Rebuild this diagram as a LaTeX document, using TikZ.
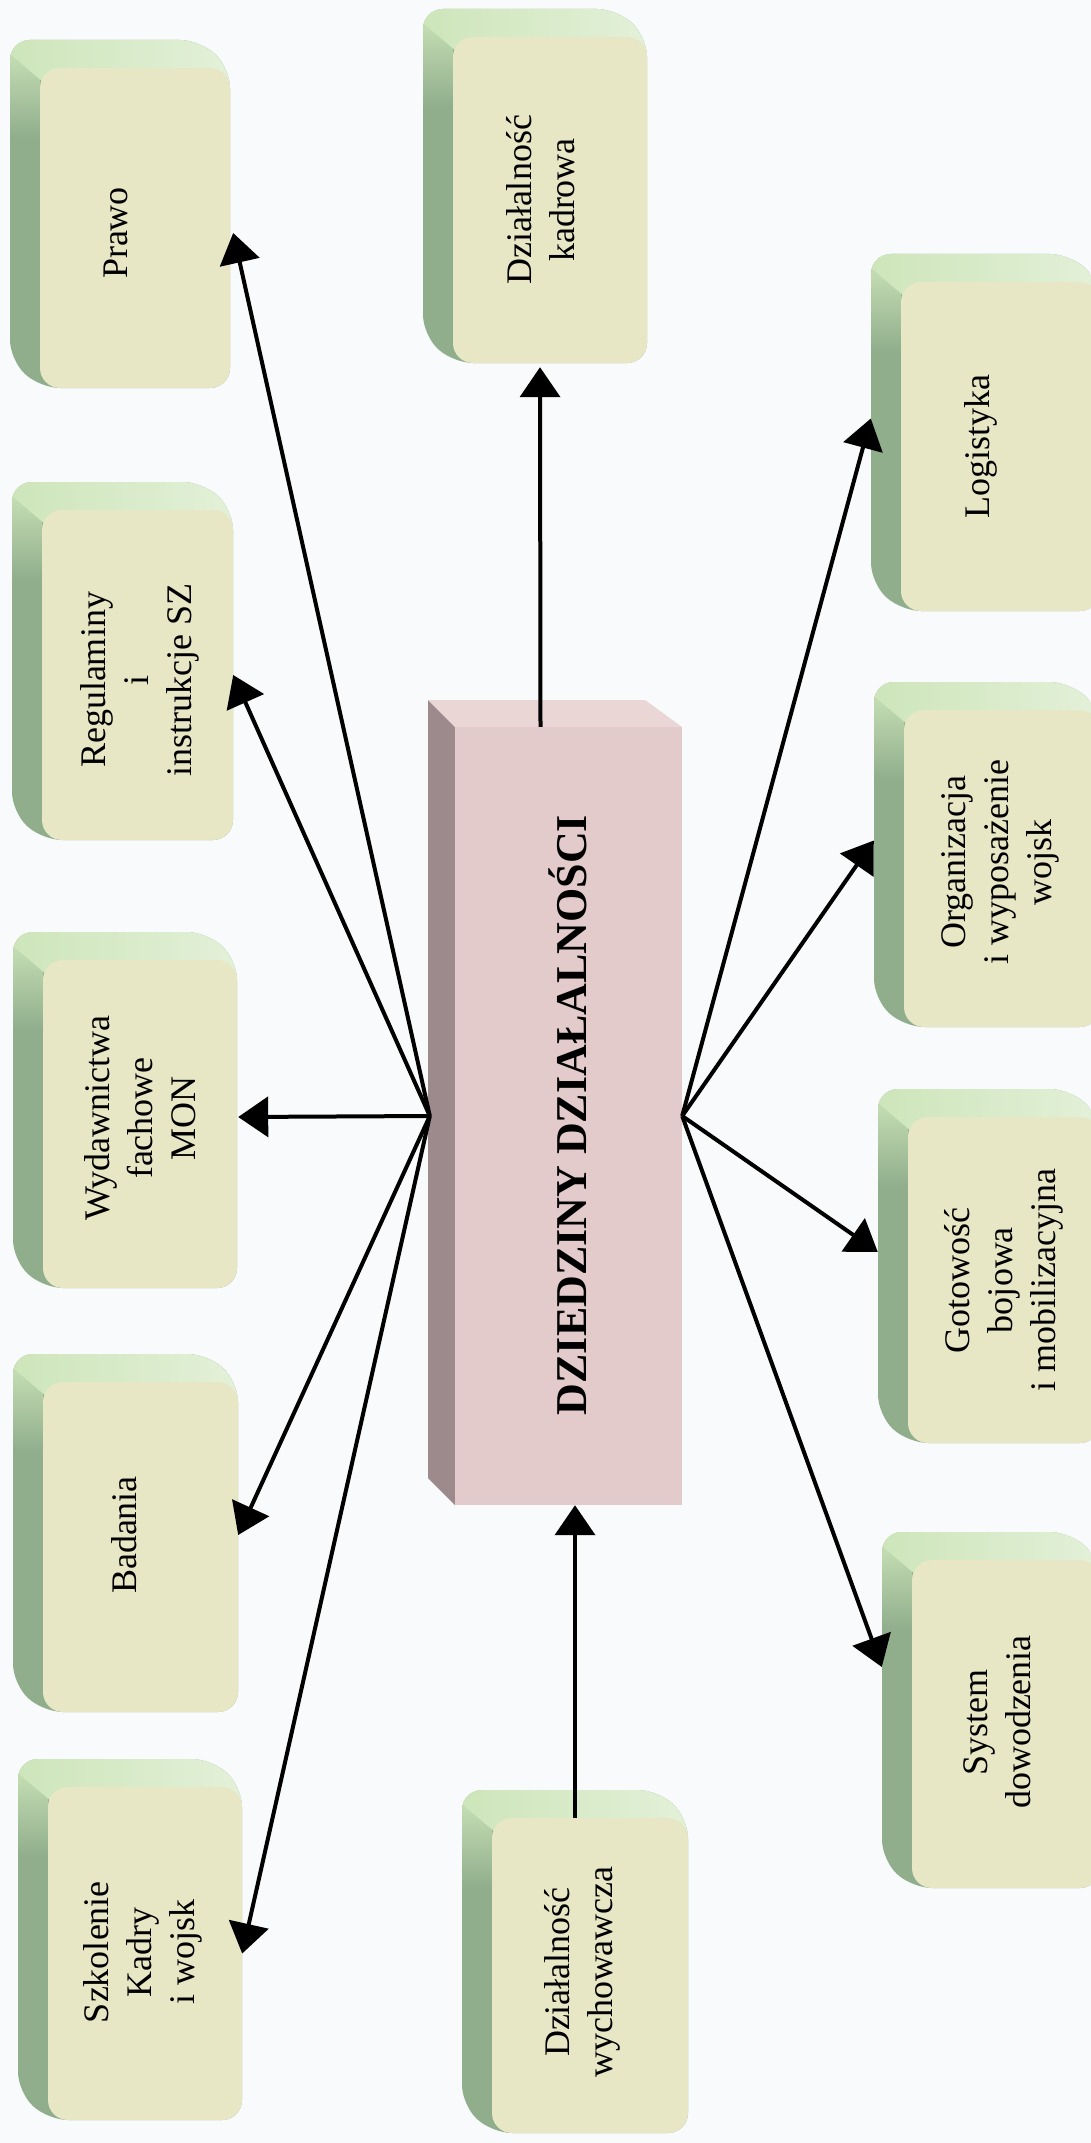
\documentclass[tikz,border=0pt]{standalone}
\usepackage{fontspec}
\setmainfont{Liberation Serif}
\usetikzlibrary{arrows.meta,calc}

\definecolor{paper}{HTML}{F8FAFB}
\definecolor{faceG}{HTML}{E8E7C5}
\definecolor{topG}{HTML}{CDE5BA}
\definecolor{sideG}{HTML}{90AE8C}
\definecolor{faceP}{HTML}{E2CBCA}
\definecolor{topP}{HTML}{EAD7D5}
\definecolor{sideP}{HTML}{9C8A8D}

\tikzset{
  gface/.style={rectangle, rounded corners=20pt, fill=faceG, inner sep=0pt},
  gback/.style={rectangle, inner sep=0pt},
  boxtext/.style={rotate=90, align=center, inner sep=0pt,
    font=\fontsize{36}{43}\selectfont},
  coretext/.style={rotate=90, inner sep=0pt,
    font=\bfseries\fontsize{44}{50}\selectfont},
  link/.style={line width=4pt, -{Triangle[length=30pt,width=40pt]}},
}

% extruded rounded block: name, front face x1, y1, x2, y2 (pixel units, y down)
\newcommand{\extbox}[5]{%
  \pgfmathsetmacro{\eXa}{#2-30}\pgfmathsetmacro{\eYa}{#3-28}%
  \pgfmathsetmacro{\eXb}{#4-30}\pgfmathsetmacro{\eYb}{#5-28}%
  \pgfmathsetmacro{\eCx}{(#2+#4)/2}\pgfmathsetmacro{\eCy}{(#3+#5)/2}%
  \pgfmathsetmacro{\eW}{#4-#2}\pgfmathsetmacro{\eH}{#5-#3}%
  \begin{scope}
    \clip[rounded corners=20pt] (\eXa,\eYa) -- (\eXb,\eYa) -- (#4,#3)
      -- (#4,#5) -- (#2,#5) -- (\eXa,\eYb) -- cycle;
    \fill[sideG] (\eXa-5,\eYa-5) rectangle (#4+5,#5+5);
    \shade[top color=topG, bottom color=sideG] (\eXa-5,\eYa) rectangle (#2,#3+70);
    \shade[left color=topG, right color=topG!55!white]
      (\eXa-5,\eYa-5) -- (#4+5,\eYa-5) -- (#4+5,#3+20) -- (#2+10,#3+20)
      -- (\eXa,\eYa+14) -- cycle;
  \end{scope}
  \node[gface, minimum width=\eW pt, minimum height=\eH pt] (#1) at (\eCx,\eCy) {};
  \node[gback, minimum width=\eW pt, minimum height=\eH pt] (#1-back) at (\eCx-30,\eCy-28) {};
}

\begin{document}
\begin{tikzpicture}[x=1pt, y=-1pt]
  \useasboundingbox (0,0) rectangle (1091,2143);
  \clip (0,0) rectangle (1091,2143);
  \fill[paper] (0,0) rectangle (1091,2143);

  % central block
  \fill[sideP] (428,700) -- (455,727) -- (455,1505) -- (428,1478) -- cycle;
  \fill[topP] (428,700) -- (645,700) -- (682,727) -- (455,727) -- cycle;
  \node[rectangle, fill=faceP, inner sep=0pt, minimum width=227pt,
        minimum height=778pt] (core) at (568.5,1116) {};
  \node[coretext] (core-text) at (568,1115) {DZIEDZINY DZIAŁALNOŚCI};

  % left column
  \extbox{prawo}{40}{68}{230}{388}
  \extbox{regul}{42}{510}{233}{840}
  \extbox{wydaw}{43}{960}{237}{1288}
  \extbox{badania}{43}{1382}{238}{1712}
  \extbox{szkol}{48}{1787}{242}{2120}

  % middle column
  \extbox{kadrowa}{453}{37}{647}{363}
  \extbox{wych}{492}{1818}{688}{2133}

  % right column
  \extbox{logist}{901}{282}{1100}{611}
  \extbox{organ}{904}{710}{1100}{1027}
  \extbox{gotow}{908}{1117}{1100}{1443}
  \extbox{system}{912}{1560}{1100}{1888}

  % labels
  \node[boxtext] (prawo-text)   at (116,233)  {Prawo};
  \node[boxtext] (regul-text)   at (140,680)  {Regulaminy\\i\\instrukcje SZ};
  \node[boxtext] (wydaw-text)   at (140,1118) {Wydawnictwa\\fachowe\\MON};
  \node[boxtext] (badania-text) at (124,1535) {Badania};
  \node[boxtext] (szkol-text)   at (143,1952) {Szkolenie\\Kadry\\i wojsk};
  \node[boxtext] (kadrowa-text) at (541,200)  {Działalność\\kadrowa};
  \node[boxtext] (wych-text)    at (582,1972) {Działalność\\wychowawcza};
  \node[boxtext] (logist-text)  at (981,447)  {Logistyka};
  \node[boxtext] (organ-text)   at (1000,862) {Organizacja\\i wyposażenie\\wojsk};
  \node[boxtext] (gotow-text)   at (1004,1280){Gotowość\\bojowa\\i mobilizacyjna};
  \node[boxtext] (system-text)  at (997,1722) {System\\dowodzenia};

  % connectors
  \coordinate (hubL) at ($(core.west)+(-25,0)$);
  \coordinate (hubR) at (core.east);

  \draw[link] (hubL) -- ($(prawo.east)+(3,5)$);
  \draw[link] (hubL) -- (regul.east);
  \draw[link] (hubL) -- ($(wydaw.east)+(1,-7)$);
  \draw[link] (hubL) -- ($(badania.east)+(0,-12)$);
  \draw[link] (hubL) -- (szkol.east);

  \draw[link] (hubR) -- (logist-back.west);
  \draw[link] (hubR) -- (organ-back.west);
  \draw[link] (hubR) -- (gotow-back.west);
  \draw[link] (hubR) -- ($(system-back.west)+(0,-29)$);

  \draw[link] ($(core.north)+(-28,0)$) -- ($(kadrowa.south)+(-10,4)$);
  \draw[link] ($(wych.north)+(-15,0)$) -- ($(core.south)+(6.5,0)$);
\end{tikzpicture}
\end{document}
